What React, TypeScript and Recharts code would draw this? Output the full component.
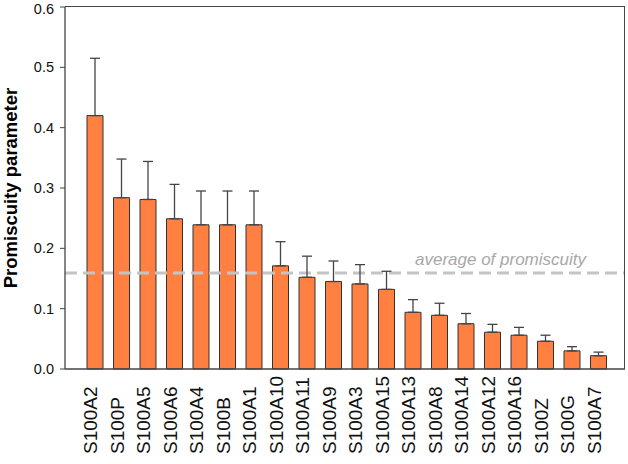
import React from 'react';
import {
  BarChart,
  Bar,
  XAxis,
  YAxis,
  ErrorBar,
  ReferenceLine
} from 'recharts';

const proteins = [
  'S100A2', 'S100P', 'S100A5', 'S100A6', 'S100A4', 'S100B', 'S100A1', 'S100A10', 'S100A11', 'S100A9',
  'S100A3', 'S100A15', 'S100A13', 'S100A8', 'S100A14', 'S100A12', 'S100A16', 'S100Z', 'S100G', 'S100A7'
];
const promiscuity = [
  0.42, 0.284, 0.281, 0.249, 0.239, 0.239, 0.239, 0.171, 0.152, 0.145,
  0.141, 0.132, 0.094, 0.089, 0.075, 0.061, 0.056, 0.046, 0.03, 0.022
];
const errorUp = [
  0.095, 0.064, 0.063, 0.057, 0.056, 0.056, 0.056, 0.04, 0.035, 0.034,
  0.032, 0.03, 0.021, 0.02, 0.017, 0.013, 0.013, 0.01, 0.007, 0.006
];
const averagePromiscuity = 0.159;
const yTicks = [0, 0.1, 0.2, 0.3, 0.4, 0.5, 0.6];

const data = proteins.map((name, i) => ({
  name,
  value: promiscuity[i],
  err: [0, errorUp[i]]
}));

const font = '"Liberation Sans", Arial, sans-serif';
const axisStroke = { stroke: '#444', strokeWidth: 1.3 };

// chart layout
const W = 628;
const H = 464;
const margin = { top: 7, right: 3, left: 0, bottom: 0 };
const yAxisWidth = 65;
const xAxisHeight = 95;
const plotWidth = W - margin.left - yAxisWidth - margin.right;
const plotHeight = H - margin.top - margin.bottom - xAxisHeight;

const ProteinTick = (props: any) => {
  const { x, payload } = props;
  const tx = x + 2;
  const ty = 454;
  return (
    <text
      x={tx}
      y={ty}
      transform={`rotate(-90 ${tx} ${ty})`}
      textAnchor="start"
      fontSize={19}
      fontFamily={font}
      fill="#111"
    >
      {payload.value}
    </text>
  );
};

const AverageLabel = (props: any) => {
  const { viewBox } = props;
  return (
    <text
      x={viewBox.x + viewBox.width - 39}
      y={viewBox.y - 8}
      textAnchor="end"
      fontSize={17}
      fontStyle="italic"
      fontFamily={font}
      fill="#a8a8a8"
    >
      average of promiscuity
    </text>
  );
};

const AxisTitle = () => (
  <text
    x={17}
    y={188}
    transform="rotate(-90 17 188)"
    textAnchor="middle"
    fontSize={18.5}
    fontWeight="bold"
    fontFamily={font}
    fill="#000"
  >
    Promiscuity parameter
  </text>
);

export default function App() {
  return (
    <div style={{ position: 'absolute', left: 0, top: 0, width: W, height: H, background: '#fff' }}>
      <BarChart width={W} height={H} data={data} barSize={16} margin={margin}>
        <XAxis
          dataKey="name"
          height={xAxisHeight}
          padding={{ left: 17, right: 13 }}
          tickLine={false}
          interval={0}
          tick={<ProteinTick />}
          axisLine={axisStroke}
        />
        <YAxis
          width={yAxisWidth}
          domain={[0, 0.6]}
          ticks={yTicks}
          tickFormatter={(v: number) => v.toFixed(1)}
          tickSize={5}
          tickMargin={6}
          tick={{ fontSize: 14.5, fontFamily: font, fill: '#111' }}
          tickLine={{ stroke: '#444' }}
          axisLine={axisStroke}
          label={{ content: <AxisTitle /> }}
        />
        <ReferenceLine
          y={averagePromiscuity}
          stroke="#c4c4c4"
          strokeWidth={3}
          strokeDasharray="12 6"
          label={<AverageLabel />}
        />
        <Bar
          dataKey="value"
          fill="#ff8040"
          stroke="#333"
          strokeWidth={1}
          isAnimationActive={false}
        >
          <ErrorBar dataKey="err" width={5} stroke="#444" strokeWidth={1.3} direction="y" />
        </Bar>
      </BarChart>
      {/* top and right edges of the plot frame */}
      <div
        style={{
          position: 'absolute',
          left: margin.left + yAxisWidth,
          top: margin.top - 1,
          width: plotWidth,
          height: plotHeight + 1,
          borderTop: '1px solid #444',
          borderRight: '1px solid #444',
          boxSizing: 'border-box',
          pointerEvents: 'none'
        }}
      />
    </div>
  );
}
